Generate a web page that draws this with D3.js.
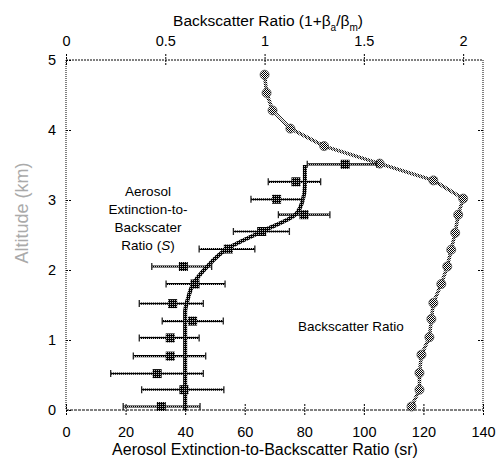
<!DOCTYPE html>
<html><head><meta charset="utf-8">
<script src="https://cdn.jsdelivr.net/npm/d3@7"></script>
<style>body{margin:0;background:#fff}svg{display:block;font-family:"Liberation Sans",Arial,sans-serif}</style>
</head><body><svg id="c" width="496" height="466"></svg>
<script>
// Bottom axis ticks (S, sr)
const xTicks = [0,20,40,60,80,100,120,140];
// Top axis ticks (backscatter ratio)
const topTicks = [0,0.5,1,1.5,2];
const yTicks = [0,1,2,3,4,5];

// Backscatter ratio profile
const bsAlt = [0.05,0.29,0.53,0.79,1.04,1.30,1.53,1.80,2.05,2.29,2.53,2.79,3.02,3.28,3.52,3.77,4.02,4.28,4.53,4.79];
const bsVal = [1.74,1.78,1.78,1.79,1.83,1.84,1.85,1.89,1.92,1.94,1.96,1.975,2.0,1.85,1.58,1.30,1.13,1.04,1.01,1.0];

// Aerosol extinction-to-backscatter ratio with error bars
const sAlt = [0.05,0.29,0.52,0.77,1.03,1.27,1.52,1.80,2.05,2.30,2.55,2.79,3.01,3.26,3.51];
const sVal = [32,39.6,30.6,35,35,42.5,35.8,43.3,39.4,54.5,65.7,79.9,70.7,77.2,93.7];
const sLo  = [19.2,25.4,15,22.6,24.6,32.3,24.6,33.6,28.8,44.7,56.2,71.3,62.1,67.9,81];
const sHi  = [45,53,46.1,46.9,44.7,52.8,46.1,53.4,48.9,63.4,75,88.6,79.7,85.5,104.3];

// Smooth fit curve of S
const fitAlt = [0,0.5,1.0,1.4,1.6,1.8,2.03,2.3,2.55,2.79,3.0,3.2,3.5];
const fitVal = [40,40,40,40,41,42.7,47,54,65.7,77,79.5,80.2,80.2];

const svg = d3.select("#c");
const L=66,R=483,T=60,B=410;
const x = d3.scaleLinear().domain([0,140]).range([L,R]);
const xt = d3.scaleLinear().domain([0,2.1]).range([L,R]);
const y = d3.scaleLinear().domain([0,5]).range([B,T]);

const defs = svg.append("defs");
const p1 = defs.append("pattern").attr("id","chk").attr("width",2).attr("height",2).attr("patternUnits","userSpaceOnUse");
p1.append("rect").attr("width",2).attr("height",2).attr("fill","#fff");
p1.append("rect").attr("width",1).attr("height",1).attr("fill","#000");
p1.append("rect").attr("x",1).attr("y",1).attr("width",1).attr("height",1).attr("fill","#000");
const p2 = defs.append("pattern").attr("id","dark").attr("width",2).attr("height",2).attr("patternUnits","userSpaceOnUse");
p2.append("rect").attr("width",2).attr("height",2).attr("fill","#000");
p2.append("rect").attr("width",1).attr("height",1).attr("fill","#bbb");

// frame
svg.append("line").attr("x1",L).attr("x2",R).attr("y1",T).attr("y2",T).attr("stroke","#000").attr("stroke-dasharray","2,1");
svg.append("line").attr("x1",L).attr("x2",R).attr("y1",B).attr("y2",B).attr("stroke","#000").attr("stroke-dasharray","3,1");
svg.append("line").attr("x1",L).attr("x2",L).attr("y1",T).attr("y2",B).attr("stroke","#000").attr("stroke-dasharray","1,1");
svg.append("line").attr("x1",R).attr("x2",R).attr("y1",T).attr("y2",B).attr("stroke","#000").attr("stroke-dasharray","1,1");

const FF = "Liberation Sans, Arial, sans-serif";
// bottom axis
const gb = svg.append("g").attr("transform",`translate(0,${B})`)
  .call(d3.axisBottom(x).tickValues(xTicks).tickSize(0).tickPadding(17).tickFormat(d3.format("d")));
gb.select(".domain").remove();
gb.selectAll("text").attr("font-size",14.5).attr("font-family",FF).attr("fill","#000");
gb.selectAll(".tick").append("line").attr("y1",-6).attr("y2",6).attr("stroke","#000").attr("stroke-dasharray","2,1");

// top axis
const gt = svg.append("g").attr("transform",`translate(0,${T})`)
  .call(d3.axisTop(xt).tickValues(topTicks).tickSize(0).tickPadding(14).tickFormat(d=>d3.format("")(d)));
gt.select(".domain").remove();
gt.selectAll("text").attr("font-size",14.5).attr("font-family",FF).attr("fill","#000");
gt.selectAll(".tick").append("line").attr("y1",-6).attr("y2",6).attr("stroke","#000").attr("stroke-dasharray","2,1");

// left axis
const gl = svg.append("g").attr("transform",`translate(${L},0)`)
  .call(d3.axisLeft(y).tickValues(yTicks).tickSize(0).tickPadding(10).tickFormat(d3.format("d")));
gl.select(".domain").remove();
gl.selectAll("text").attr("font-size",14.5).attr("font-family",FF).attr("fill","#000");
gl.selectAll(".tick").append("line").attr("x1",0).attr("x2",6).attr("stroke","#000").attr("stroke-dasharray","2,1");

// right axis ticks
const gr = svg.append("g").attr("transform",`translate(${R},0)`)
  .call(d3.axisRight(y).tickValues([1,2,3,4]).tickSize(0).tickFormat(""));
gr.select(".domain").remove();
gr.selectAll(".tick").append("line").attr("x1",0).attr("x2",-6).attr("stroke","#000").attr("stroke-dasharray","2,1");

// titles
const tt = svg.append("text").attr("x",268).attr("y",26).attr("text-anchor","middle").attr("font-size",15.5).attr("fill","#000");
tt.append("tspan").text("Backscatter Ratio (1+β");
tt.append("tspan").attr("font-size",10).attr("dy",5).text("a");
tt.append("tspan").attr("dy",-5).text("/β");
tt.append("tspan").attr("font-size",10).attr("dy",5).text("m");
tt.append("tspan").attr("dy",-5).text(")");

svg.append("text").attr("x",265).attr("y",455).attr("text-anchor","middle").attr("font-size",16).attr("fill","#000")
  .text("Aerosol Extinction-to-Backscatter Ratio (sr)");
svg.append("text").attr("transform","translate(28,213) rotate(-90)").attr("text-anchor","middle").attr("font-size",18).attr("fill","#aaa")
  .text("Altitude (km)");

// backscatter profile
const bsData = bsAlt.map((a,i)=>({a, v:bsVal[i]}));
svg.append("path").datum(bsData)
  .attr("d", d3.line().x(d=>xt(d.v)).y(d=>y(d.a)))
  .attr("fill","none").attr("stroke","url(#chk)").attr("stroke-width",3.5);
svg.append("path").datum(bsData)
  .attr("d", d3.line().x(d=>xt(d.v)).y(d=>y(d.a)))
  .attr("fill","none").attr("stroke","#888").attr("stroke-width",1);
svg.selectAll("circle.bs").data(bsData).join("circle").attr("class","bs")
  .attr("cx",d=>xt(d.v)).attr("cy",d=>y(d.a)).attr("r",4.5)
  .attr("fill","url(#chk)").attr("stroke","#555").attr("stroke-width",0.8);

// fit curve
const fitData = fitAlt.map((a,i)=>({a, v:fitVal[i]}));
svg.append("path").datum(fitData)
  .attr("d", d3.line().curve(d3.curveMonotoneY).x(d=>x(d.v)).y(d=>y(d.a)))
  .attr("fill","none").attr("stroke","url(#dark)").attr("stroke-width",4);

// error bars and squares
const sData = sAlt.map((a,i)=>({a, v:sVal[i], lo:sLo[i], hi:sHi[i]}));
const eb = svg.append("g");
sData.forEach(d=>{
  const yy = y(d.a);
  eb.append("line").attr("x1",x(d.lo)).attr("x2",x(d.hi)).attr("y1",yy).attr("y2",yy)
    .attr("stroke","url(#dark)").attr("stroke-width",2.2);
  [d.lo,d.hi].forEach(e=>{
    eb.append("line").attr("x1",x(e)).attr("x2",x(e)).attr("y1",yy-3.5).attr("y2",yy+3.5)
      .attr("stroke","#222").attr("stroke-width",1.3);
  });
});
svg.selectAll("rect.s").data(sData).join("rect").attr("class","s")
  .attr("x",d=>x(d.v)-4.5).attr("y",d=>y(d.a)-4.5).attr("width",9).attr("height",9)
  .attr("fill","url(#dark)");

// annotations
const ann = svg.append("text").attr("text-anchor","middle").attr("font-size",13.5).attr("fill","#000");
[["Aerosol",196],["Extinction-to-",214],["Backscater",232]].forEach(([t,yy])=>{
  ann.append("tspan").attr("x",148).attr("y",yy).text(t);
});
const r4 = ann.append("tspan").attr("x",148).attr("y",250);
r4.append("tspan").text("Ratio (");
r4.append("tspan").attr("font-style","italic").text("S");
r4.append("tspan").text(")");
svg.append("text").attr("x",298).attr("y",331).attr("font-size",13.5).attr("fill","#000").text("Backscatter Ratio");
</script></body></html>
